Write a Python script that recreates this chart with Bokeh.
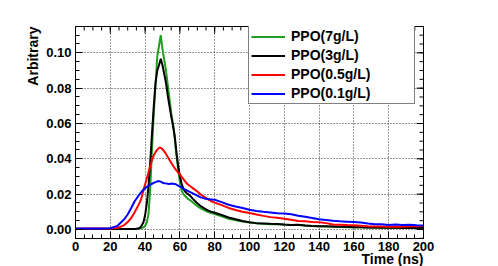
from bokeh.plotting import figure
from bokeh.models import (FixedTicker, Range1d, Title, Legend,
                          LegendItem, PrintfTickFormatter)
from bokeh.embed import file_html
from bokeh.resources import INLINE

# ---- data ----
time_ns = [0, 4, 8, 12, 16, 20, 24, 28, 30, 32, 34, 36,
           37, 38, 39, 40, 41, 42, 43, 44, 45, 46,
           47, 48, 49, 50, 51, 52, 53, 54, 55, 56,
           57, 58, 59, 60, 61, 62, 63, 64, 65, 66,
           68, 70, 72, 74, 76, 78, 80,
           84, 88, 92, 96, 100, 104, 108, 112, 116, 120,
           124, 128, 132, 136, 140, 144, 148, 152, 156, 160,
           164, 168, 172, 176, 180, 184, 188, 192, 196, 200]

ppo_7 = [0.0003, 0.0003, 0.0003, 0.0003, 0.0003, 0.0003, 0.0003, 0.0003, 0.0003, 0.0003, 0.0003, 0.0004,
         0.0005, 0.0008, 0.0012, 0.002, 0.004, 0.009, 0.024, 0.046, 0.066, 0.082,
         0.098, 0.104, 0.110, 0.102, 0.096, 0.090, 0.082, 0.074, 0.066, 0.060,
         0.052, 0.042, 0.034, 0.027, 0.022, 0.020, 0.019, 0.018, 0.017, 0.0165,
         0.0148, 0.0132, 0.012, 0.011, 0.0100, 0.0093, 0.0087,
         0.0075, 0.006, 0.0052, 0.0045, 0.0040, 0.0035, 0.0033, 0.003, 0.0030, 0.0027,
         0.0025, 0.0026, 0.0022, 0.002, 0.0019, 0.0017, 0.0016, 0.0014, 0.0013, 0.0013,
         0.0012, 0.0011, 0.0010, 0.0010, 0.0009, 0.0009, 0.0010, 0.0008, 0.0009, 0.0008]

ppo_3 = [0.0003, 0.0003, 0.0003, 0.0003, 0.0003, 0.0003, 0.0003, 0.0003, 0.0003, 0.0003, 0.0003, 0.0005,
         0.0009, 0.0022, 0.004, 0.008, 0.015, 0.025, 0.039, 0.055, 0.070, 0.083,
         0.090, 0.093, 0.0966, 0.093, 0.088, 0.083, 0.076, 0.070, 0.064, 0.059,
         0.053, 0.044, 0.036, 0.030, 0.026, 0.023, 0.0215, 0.0205, 0.0198, 0.019,
         0.0168, 0.0148, 0.0132, 0.0120, 0.0108, 0.0100, 0.0095,
         0.0082, 0.0068, 0.0058, 0.0048, 0.0041, 0.0036, 0.0034, 0.0032, 0.0031, 0.0028,
         0.0026, 0.0027, 0.0023, 0.0020, 0.0019, 0.0018, 0.0017, 0.0016, 0.0015, 0.0013,
         0.0013, 0.0011, 0.0012, 0.0010, 0.0010, 0.0011, 0.0009, 0.0010, 0.0009, 0.0010]

ppo_05 = [0.0005, 0.0005, 0.0005, 0.0005, 0.0005, 0.0006, 0.0008, 0.0025, 0.0042, 0.0065, 0.0098, 0.0135,
          0.0155, 0.018, 0.022, 0.0255, 0.029, 0.0325, 0.036, 0.0395, 0.042, 0.0438,
          0.0452, 0.0462, 0.0462, 0.0455, 0.0442, 0.0428, 0.041, 0.0395, 0.0378, 0.0362,
          0.0347, 0.0335, 0.0322, 0.0312, 0.0298, 0.0285, 0.0272, 0.026, 0.0252, 0.0245,
          0.023, 0.0215, 0.0198, 0.0185, 0.0172, 0.016, 0.0152,
          0.0138, 0.0122, 0.011, 0.0100, 0.0093, 0.0085, 0.0077, 0.0070, 0.0066, 0.0061,
          0.0055, 0.0048, 0.0046, 0.0042, 0.0041, 0.0036, 0.0028, 0.0027, 0.0025, 0.0024,
          0.0021, 0.0018, 0.0017, 0.0017, 0.0016, 0.0017, 0.0016, 0.0018, 0.0019, 0.002]

ppo_01 = [0.0005, 0.0005, 0.0005, 0.0005, 0.0005, 0.0007, 0.0020, 0.0058, 0.0085, 0.0122, 0.016, 0.0188,
          0.0202, 0.0214, 0.0225, 0.0234, 0.0241, 0.0248, 0.0254, 0.0259, 0.0264, 0.0268,
          0.0272, 0.0274, 0.0271, 0.0265, 0.0262, 0.0261, 0.0259, 0.0258, 0.026, 0.0259,
          0.0258, 0.0254, 0.0248, 0.0243, 0.0238, 0.0231, 0.0226, 0.0221, 0.0216, 0.0211,
          0.0202, 0.0192, 0.0182, 0.0176, 0.0172, 0.0170, 0.0168,
          0.0155, 0.0140, 0.0130, 0.0122, 0.0112, 0.0105, 0.0100, 0.0096, 0.0092, 0.0091,
          0.0086, 0.0078, 0.0072, 0.0065, 0.0058, 0.0054, 0.0049, 0.0046, 0.0044, 0.0042,
          0.0040, 0.0034, 0.0030, 0.0030, 0.0026, 0.0028, 0.0025, 0.0027, 0.0024, 0.0023]

series_labels = ["PPO(7g/L)", "PPO(3g/L)", "PPO(0.5g/L)", "PPO(0.1g/L)"]
series_colors = ["#1f9f1f", "#000000", "#ff0000", "#0000ff"]

x_major = [0, 20, 40, 60, 80, 100, 120, 140, 160, 180, 200]
x_minor = list(range(0, 201, 5))
y_major = [0.0, 0.02, 0.04, 0.06, 0.08, 0.10]
y_minor = [round(-0.005 + 0.005 * i, 3) for i in range(25)]

X_START, X_END = 0, 200
Y_START, Y_END = -0.0051, 0.1149

FONT = "Liberation Sans"

p = figure(width=498, height=266, x_range=Range1d(X_START, X_END),
           y_range=Range1d(Y_START, Y_END),
           output_backend="svg", toolbar_location=None,
           min_border_left=75, min_border_right=75,
           min_border_top=26, min_border_bottom=28)

p.outline_line_color = "black"
p.outline_line_width = 1
p.background_fill_color = "white"
p.border_fill_color = "white"

xt = FixedTicker(ticks=x_major, minor_ticks=x_minor)
yt = FixedTicker(ticks=y_major, minor_ticks=y_minor)

def style_axis(ax):
    ax.axis_line_color = None
    ax.major_tick_in = 7
    ax.major_tick_out = 0
    ax.minor_tick_in = 4
    ax.minor_tick_out = 0
    ax.major_tick_line_color = "black"
    ax.minor_tick_line_color = "black"
    ax.major_label_text_font = FONT
    ax.major_label_text_font_style = "bold"
    ax.major_label_text_font_size = "13px"
    ax.major_label_text_color = "black"

xa = p.xaxis[0]
xa.ticker = xt
style_axis(xa)
xa.major_label_standoff = 3

ya = p.yaxis[0]
ya.ticker = yt
ya.formatter = PrintfTickFormatter(format="%.2f")
style_axis(ya)
ya.major_label_standoff = 4

for g, t in ((p.xgrid[0], xt), (p.ygrid[0], yt)):
    g.ticker = t
    g.grid_line_color = "black"
    g.grid_line_dash = "1 2"
    g.grid_line_width = 1
    g.grid_line_alpha = 0.8

# inner tick marks on the top and right frame edges (half of each dash is clipped by the frame)
p.scatter([X_END] * len(y_major), y_major, marker="dash", size=14, line_color="black", line_width=1)
p.scatter([X_END] * len(y_minor), y_minor, marker="dash", size=8, line_color="black", line_width=1)
p.scatter(x_major, [Y_END] * len(x_major), marker="dash", size=14, angle=1.5707963,
          line_color="black", line_width=1)
p.scatter(x_minor, [Y_END] * len(x_minor), marker="dash", size=8, angle=1.5707963,
          line_color="black", line_width=1)

renderers = []
for ys, c in zip([ppo_7, ppo_3, ppo_05, ppo_01], series_colors):
    r = p.line(time_ns, ys, line_color=c, line_width=2)
    renderers.append(r)

legend = Legend(items=[LegendItem(label=l, renderers=[r])
                       for l, r in zip(series_labels, renderers)],
                location=(173, 134))
legend.label_text_font = FONT
legend.label_text_font_style = "bold"
legend.label_text_font_size = "14px"
legend.label_text_color = "black"
legend.glyph_width = 34
legend.glyph_height = 15
legend.label_height = 15
legend.label_width = 121
legend.label_standoff = 6
legend.spacing = 3
legend.padding = 2
legend.margin = 0
legend.border_line_color = "black"
legend.border_line_width = 1
legend.background_fill_color = "white"
legend.background_fill_alpha = 1.0
p.add_layout(legend, "center")

xtitle = Title(text="Time (ns)", align="right", vertical_align="bottom", standoff=-10,
               text_font=FONT, text_font_style="bold", text_font_size="14px",
               text_color="black")
p.add_layout(xtitle, "below")
ytitle = Title(text="Arbitrary", align="right", vertical_align="middle", standoff=3,
               text_font=FONT, text_font_style="bold", text_font_size="14px",
               text_color="black")
p.add_layout(ytitle, "left")

open("out.html", "w").write(file_html(p, INLINE))
